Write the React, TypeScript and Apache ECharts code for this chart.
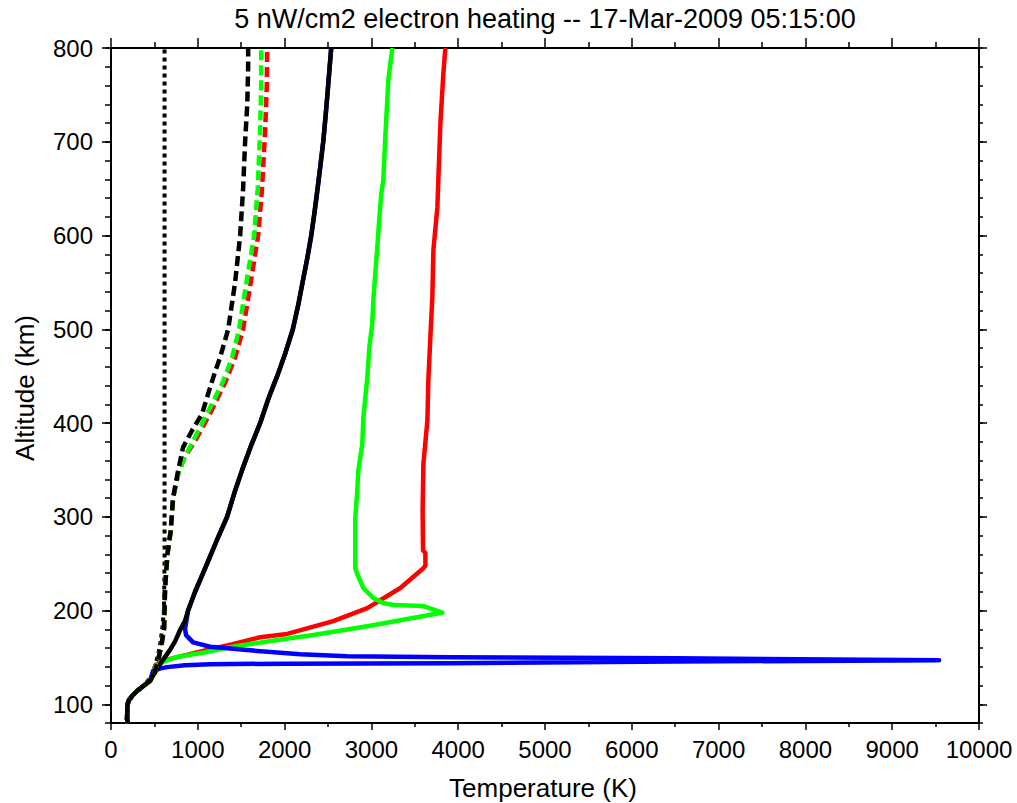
import React, { useEffect, useRef } from "react";
import * as echarts from "echarts";

// [Temperature (K), Altitude (km)]
const tnDotted: number[][] = [[190,80],[196,100],[250,110],[380,120],[470,130],[520,145],[560,160],[590,180],[610,200],[617,250],[617,800]];

const teRed: number[][] = [[196,80],[185,84],[190,100],[210,105],[254,110],[311,115],[380,120],[450,125],[490,135],[515,142],[600,146.5],[800,151],[1084,157.5],[1400,164],[1719,171.5],[2030,175],[2560,188.7],[2953,202.6],[3333,224],[3599,245],[3622,248],[3622,261.4],[3595,264],[3590,306.3],[3599,356.5],[3645,402.4],[3656,445.2],[3679,491.1],[3702,533.9],[3714,584.1],[3760,630],[3771,659],[3795,719.8],[3829,773],[3852,800]];

const teGreen: number[][] = [[196,80],[185,84],[190,100],[210,105],[254,110],[311,115],[380,120],[450,125],[490,135],[520,141],[620,146],[760,150.5],[1084,155.5],[1407,161.5],[2180,172],[2260,172.8],[2953,183.3],[3714,196],[3818,197.8],[3599,204.7],[3253,205.8],[3137,208],[3022,213.3],[2907,224],[2837,239],[2814,245.3],[2814,298.8],[2837,327.6],[2849,349],[2895,377.9],[2907,405.6],[2930,427],[2953,448.4],[2976,480.5],[3010,506],[3022,530.7],[3045,559.5],[3068,587.3],[3091,618.3],[3114,645],[3137,659],[3160,704.9],[3195,765.8],[3241,800]];

const teBlue: number[][] = [[196,80],[185,84],[190,100],[210,105],[254,110],[311,115],[380,120],[450,125],[484,135.3],[560,138],[646,139.6],[850,141.5],[1142,142.7],[2000,143.3],[3910,143.8],[6500,145.5],[9540,147],[6500,149],[3910,150.2],[2722,151.2],[2180,153.3],[1603,157.5],[1142,161.3],[946,166],[865,173.7],[853,180],[870,190],[888,200],[969,220],[1107,250],[1220,275],[1338,300],[1420,325],[1511,350],[1610,375],[1719,400],[1810,425],[1880,442],[1915,450],[2010,475],[2095,500],[2155,525],[2207,550],[2260,575],[2307,600],[2345,625],[2380,650],[2413,675],[2445,700],[2470,725],[2493,750],[2515,775],[2537,800]];

const teBlack: number[][] = [[196,80],[185,84],[190,100],[210,105],[254,110],[311,115],[380,120],[450,125],[500,133],[588,146],[680,158],[738,167],[800,180],[853,189],[888,200],[969,220],[1107,250],[1220,275],[1338,300],[1420,325],[1511,350],[1610,375],[1719,400],[1810,425],[1880,442],[1915,450],[2010,475],[2095,500],[2155,525],[2207,550],[2260,575],[2307,600],[2345,625],[2380,650],[2413,675],[2445,700],[2470,725],[2493,750],[2515,775],[2537,800]];

const tiRed: number[][] = [[196,80],[185,84],[190,100],[210,105],[254,110],[311,115],[380,120],[450,125],[500,133],[542,146],[588,167],[611,181],[623,224],[650,260],[688,285],[715,320],[773,345],[840,362],[969,381],[1142,410],[1320,444],[1430,470],[1522,500],[1610,550],[1695,600],[1740,650],[1776,712],[1795,760],[1799,800]];

const tiGreen: number[][] = [[196,80],[185,84],[190,100],[210,105],[254,110],[311,115],[380,120],[450,125],[500,133],[542,146],[588,167],[611,181],[623,224],[650,260],[688,285],[715,320],[773,345],[830,360],[946,381],[1107,410],[1290,444],[1396,470],[1476,500],[1560,550],[1649,600],[1690,650],[1718,712],[1730,760],[1730,800]];

const tiBlack: number[][] = [[196,80],[185,84],[190,100],[210,105],[254,110],[311,115],[380,120],[450,125],[500,133],[542,146],[588,167],[611,181],[623,224],[650,260],[688,285],[715,320],[773,349],[830,374],[934,392],[1050,410],[1119,431],[1200,455],[1257,470],[1350,500],[1430,550],[1488,600],[1522,650],[1545,700],[1570,740],[1580,780],[1580,800]];

const yMajorTicks: number[] = [100,200,300,400,500,600,700,800];
const yMinorTicks: number[] = [80,100,120,140,160,180,200,220,240,260,280,300,320,340,360,380,400,420,440,460,480,500,520,540,560,580,600,620,640,660,680,700,720,740,760,780,800];

const titleText = "5 nW/cm2 electron heating -- 17-Mar-2009 05:15:00";
const xName = "Temperature (K)";
const yName = "Altitude (km)";

const FONT = "'Liberation Sans', Arial, Helvetica, sans-serif";

export default function App() {
  const ref = useRef<HTMLDivElement>(null);
  useEffect(() => {
    if (!ref.current) return;
    const chart = echarts.init(ref.current, null, { renderer: "svg" });
    const axisLine = { show: true, lineStyle: { color: "#000", width: 2 } };
    const mkLine = (name: string, data: number[][], color: string, type: any, width = 4.5) => ({
      name,
      type: "line",
      data,
      showSymbol: false,
      symbol: "none",
      smooth: false,
      xAxisIndex: 0,
      yAxisIndex: 0,
      lineStyle: { color, width, type, cap: "butt", join: "round" },
      emphasis: { disabled: true },
      z: 2,
    });
    chart.setOption({
      animation: false,
      grid: { left: 111, right: 38, top: 48, bottom: 80, containLabel: false },
      graphic: [
        { type: "text", x: 545, y: 19, style: { text: titleText, font: `27px ${FONT}`, fill: "#000", textAlign: "center", textVerticalAlign: "middle" } },
        { type: "text", x: 543, y: 788, style: { text: xName, font: `26px ${FONT}`, fill: "#000", textAlign: "center", textVerticalAlign: "middle" } },
        { type: "text", x: 25, y: 388, rotation: Math.PI / 2, style: { text: yName, font: `26px ${FONT}`, fill: "#000", textAlign: "center", textVerticalAlign: "middle" } },
      ],
      xAxis: [
        {
          type: "value", position: "bottom", min: 0, max: 10000, interval: 1000,
          axisLine, splitLine: { show: false },
          axisTick: { show: true, inside: false, length: 7, lineStyle: { color: "#000", width: 1.5 } },
          minorTick: { show: true, splitNumber: 2, length: 4, lineStyle: { color: "#000", width: 1.5 } },
          minorSplitLine: { show: false },
          axisLabel: { show: true, margin: 14, fontSize: 24, fontFamily: FONT, color: "#000", formatter: (v: number) => String(v) },
        },
        {
          type: "value", position: "top", min: 0, max: 10000, interval: 1000,
          axisLine, splitLine: { show: false },
          axisTick: { show: true, inside: false, length: 10, lineStyle: { color: "#000", width: 1.5 } },
          minorTick: { show: true, splitNumber: 2, length: 6, lineStyle: { color: "#000", width: 1.5 } },
          minorSplitLine: { show: false },
          axisLabel: { show: false },
        },
      ],
      yAxis: [
        {
          type: "value", position: "left", offset: 0, min: 80, max: 800,
          axisLine, splitLine: { show: false },
          axisTick: { show: true, inside: false, length: 9, customValues: yMajorTicks, lineStyle: { color: "#000", width: 1.5 } },
          axisLabel: { show: true, margin: 18, fontSize: 24, fontFamily: FONT, color: "#000", customValues: yMajorTicks, formatter: (v: number) => String(v) },
        },
        {
          type: "value", position: "left", offset: 0, min: 80, max: 800,
          axisLine, splitLine: { show: false },
          axisTick: { show: true, inside: false, length: 6, customValues: yMinorTicks, lineStyle: { color: "#000", width: 1.5 } },
          axisLabel: { show: false },
        },
        {
          type: "value", position: "right", offset: 0, min: 80, max: 800,
          axisLine, splitLine: { show: false },
          axisTick: { show: true, inside: false, length: 8, customValues: yMajorTicks, lineStyle: { color: "#000", width: 1.5 } },
          axisLabel: { show: false },
        },
        {
          type: "value", position: "right", offset: 0, min: 80, max: 800,
          axisLine, splitLine: { show: false },
          axisTick: { show: true, inside: false, length: 4, customValues: yMinorTicks, lineStyle: { color: "#000", width: 1.5 } },
          axisLabel: { show: false },
        },
      ],
      series: [
        mkLine("Tn", tnDotted, "#000000", [4, 4], 4),
        mkLine("Te red", teRed, "#ff0000", "solid"),
        mkLine("Te green", teGreen, "#00ff00", "solid"),
        mkLine("Te blue", teBlue, "#0000ff", "solid"),
        mkLine("Te black", teBlack, "#000000", "solid"),
        mkLine("Ti red", tiRed, "#ff0000", [10, 5]),
        mkLine("Ti green", tiGreen, "#00ff00", [10, 5]),
        mkLine("Ti black", tiBlack, "#000000", [10, 5]),
      ],
    });
    return () => chart.dispose();
  }, []);
  return (
    <div
      ref={ref}
      style={{ position: "fixed", left: 0, top: 0, width: 1017, height: 803, background: "#fff" }}
    />
  );
}
